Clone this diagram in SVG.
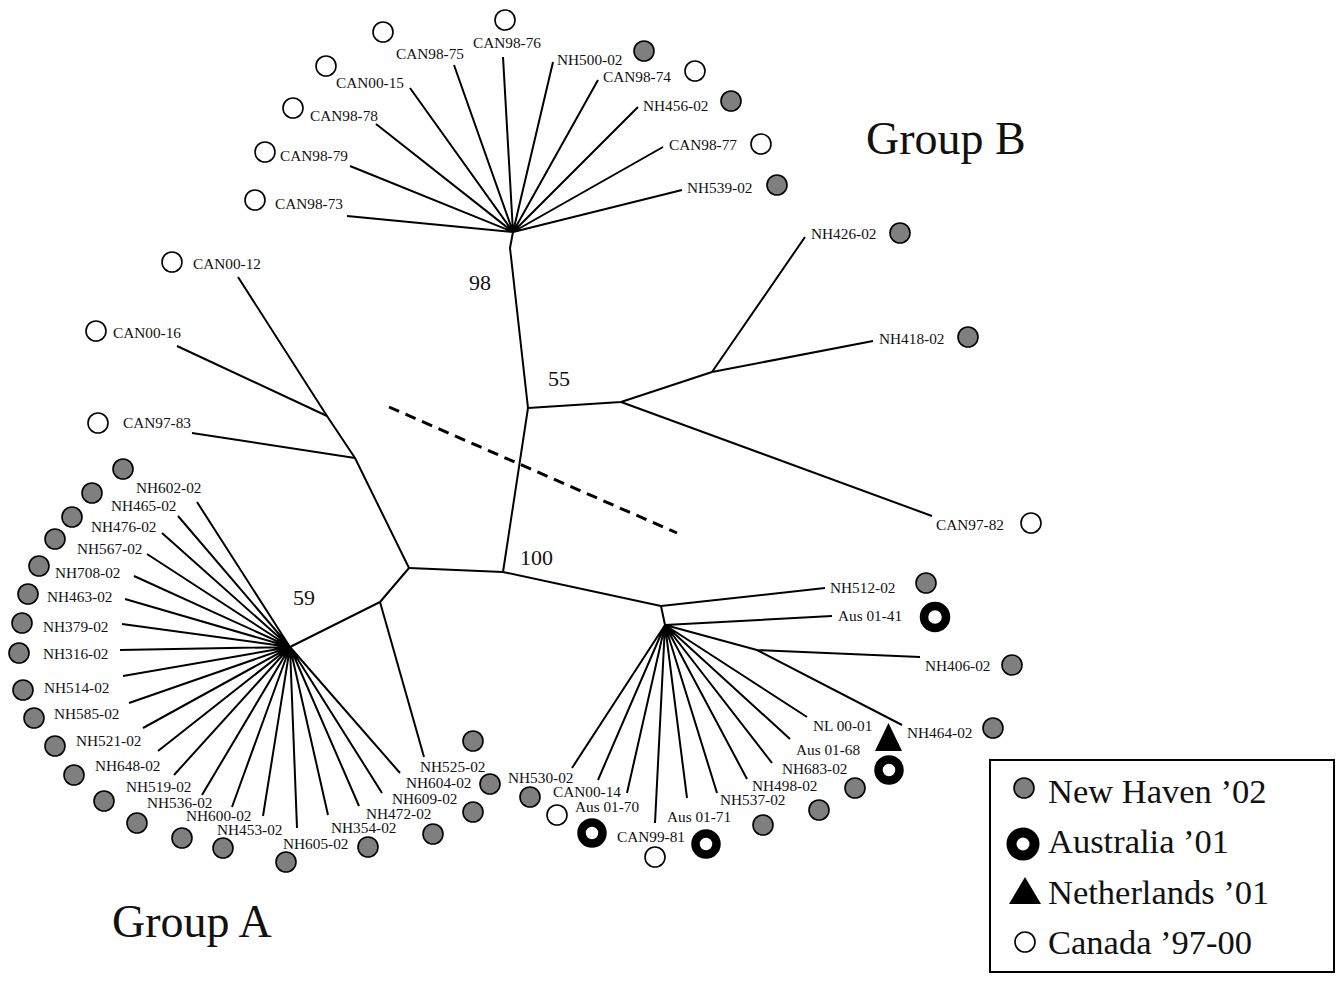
<svg xmlns="http://www.w3.org/2000/svg" width="1336" height="981" viewBox="0 0 1336 981">
<style>
.br{fill:none;stroke:#000;stroke-width:2;stroke-linejoin:round}
.dash{fill:none;stroke:#000;stroke-width:3;stroke-dasharray:11 7}
.nh{fill:#7f7f7f;stroke:#000;stroke-width:1.6}
.ca{fill:#fff;stroke:#000;stroke-width:1.6}
.au{fill:#fff;stroke:#000;stroke-width:8.5}
.nl{fill:#000}
text{font-family:"Liberation Serif","Times New Roman",serif;fill:#111}
.lb{font-size:15.3px}
.bs{font-size:22px}
.grp{font-size:46px}
.lg{font-size:34.5px}
</style>
<rect x="0" y="0" width="1336" height="981" fill="#fff"/>
<g id="connectors">
<path class="br" d="M409,568 L503,572 L661,606 L665,625"/>
<path class="br" d="M503,572 L528,408 L510,248 L513,232"/>
<path class="br" d="M528,408 L621,402 L712,372"/>
<path class="br" d="M409,568 L355,458 L327,416 L238,277"/>
<path class="br" d="M327,416 L177,346"/>
<path class="br" d="M355,458 L192,433"/>
<path class="br" d="M409,568 L380,602 L290,647"/>
<path class="br" d="M380,602 L424,757"/>
<path class="br" d="M513,232 L347,216 M513,232 L350,166 M513,232 L376,124 M513,232 L410,88 M513,232 L454,65 M513,232 L503,57 M513,232 L553,62 M513,232 L598,80 M513,232 L638,107 M513,232 L663,147 M513,232 L682,190"/>
<path class="br" d="M712,372 L805,237 M712,372 L873,341 M621,402 L932,516"/>
<path class="br" d="M290,647 L197,502 M290,647 L178,516 M290,647 L162,533 M290,647 L147,554 M290,647 L134,576 M290,647 L125,599 M290,647 L122,624 M290,647 L120,650 M290,647 L123,676 M290,647 L129,703 M290,647 L143,728 M290,647 L158,751 M290,647 L174,775 M290,647 L202,795 M290,647 L232,807 M290,647 L263,816 M290,647 L297,828 M290,647 L328,815 M290,647 L359,806 M290,647 L382,793 M290,647 L400,773"/>
<path class="br" d="M661,606 L825,588 M665,625 L832,616 M665,625 L757,650 L920,657 M757,650 L902,725"/>
<path class="br" d="M665,625 L807,717 M665,625 L790,739 M665,625 L772,763 M665,625 L747,779 M665,625 L717,793 M665,625 L687,798 M665,625 L655,823 M665,625 L627,793 M665,625 L598,780 M665,625 L572,768"/>
<path class="dash" d="M389,407 L677,533"/>
</g>
<g id="bootstrap">
<text class="bs" x="469" y="290">98</text>
<text class="bs" x="548" y="386">55</text>
<text class="bs" x="520" y="565">100</text>
<text class="bs" x="293" y="605">59</text>
</g>
<g id="group-labels">
<text class="grp" x="866" y="154">Group B</text>
<text class="grp" x="112" y="937">Group A</text>
</g>
<g id="CAN98-73"><circle class="ca" cx="255" cy="200" r="10"/><text class="lb" x="275" y="209">CAN98-73</text></g>
<g id="CAN98-79"><circle class="ca" cx="265" cy="152" r="10"/><text class="lb" x="280" y="161">CAN98-79</text></g>
<g id="CAN98-78"><circle class="ca" cx="293" cy="108" r="10"/><text class="lb" x="310" y="121">CAN98-78</text></g>
<g id="CAN00-15"><circle class="ca" cx="326" cy="66" r="10"/><text class="lb" x="336" y="88">CAN00-15</text></g>
<g id="CAN98-75"><circle class="ca" cx="383" cy="32" r="10"/><text class="lb" x="396" y="59">CAN98-75</text></g>
<g id="CAN98-76"><circle class="ca" cx="505" cy="20" r="10"/><text class="lb" x="473" y="48">CAN98-76</text></g>
<g id="NH500-02"><circle class="nh" cx="644" cy="51" r="10"/><text class="lb" x="557" y="65">NH500-02</text></g>
<g id="CAN98-74"><circle class="ca" cx="695" cy="71" r="10"/><text class="lb" x="603" y="82">CAN98-74</text></g>
<g id="NH456-02"><circle class="nh" cx="731" cy="101" r="10"/><text class="lb" x="643" y="111">NH456-02</text></g>
<g id="CAN98-77"><circle class="ca" cx="761" cy="144" r="10"/><text class="lb" x="669" y="150">CAN98-77</text></g>
<g id="NH539-02"><circle class="nh" cx="777" cy="185" r="10"/><text class="lb" x="687" y="193">NH539-02</text></g>
<g id="NH426-02"><circle class="nh" cx="900" cy="233" r="10"/><text class="lb" x="811" y="239">NH426-02</text></g>
<g id="NH418-02"><circle class="nh" cx="968" cy="337" r="10"/><text class="lb" x="879" y="344">NH418-02</text></g>
<g id="CAN97-82"><circle class="ca" cx="1031" cy="523" r="10"/><text class="lb" x="936" y="530">CAN97-82</text></g>
<g id="CAN00-12"><circle class="ca" cx="172" cy="262" r="10"/><text class="lb" x="193" y="269">CAN00-12</text></g>
<g id="CAN00-16"><circle class="ca" cx="96" cy="331" r="10"/><text class="lb" x="113" y="338">CAN00-16</text></g>
<g id="CAN97-83"><circle class="ca" cx="98" cy="423" r="10"/><text class="lb" x="123" y="428">CAN97-83</text></g>
<g id="NH602-02"><circle class="nh" cx="123" cy="469" r="10"/><text class="lb" x="136" y="493">NH602-02</text></g>
<g id="NH465-02"><circle class="nh" cx="92" cy="493" r="10"/><text class="lb" x="111" y="511">NH465-02</text></g>
<g id="NH476-02"><circle class="nh" cx="72" cy="517" r="10"/><text class="lb" x="91" y="532">NH476-02</text></g>
<g id="NH567-02"><circle class="nh" cx="55" cy="539" r="10"/><text class="lb" x="77" y="554">NH567-02</text></g>
<g id="NH708-02"><circle class="nh" cx="39" cy="566" r="10"/><text class="lb" x="55" y="578">NH708-02</text></g>
<g id="NH463-02"><circle class="nh" cx="28" cy="594" r="10"/><text class="lb" x="47" y="602">NH463-02</text></g>
<g id="NH379-02"><circle class="nh" cx="22" cy="623" r="10"/><text class="lb" x="43" y="632">NH379-02</text></g>
<g id="NH316-02"><circle class="nh" cx="19" cy="653" r="10"/><text class="lb" x="43" y="659">NH316-02</text></g>
<g id="NH514-02"><circle class="nh" cx="23" cy="690" r="10"/><text class="lb" x="44" y="693">NH514-02</text></g>
<g id="NH585-02"><circle class="nh" cx="34" cy="718" r="10"/><text class="lb" x="54" y="719">NH585-02</text></g>
<g id="NH521-02"><circle class="nh" cx="55" cy="746" r="10"/><text class="lb" x="76" y="746">NH521-02</text></g>
<g id="NH648-02"><circle class="nh" cx="74" cy="775" r="10"/><text class="lb" x="95" y="771">NH648-02</text></g>
<g id="NH519-02"><circle class="nh" cx="104" cy="801" r="10"/><text class="lb" x="126" y="792">NH519-02</text></g>
<g id="NH536-02"><circle class="nh" cx="137" cy="823" r="10"/><text class="lb" x="147" y="808">NH536-02</text></g>
<g id="NH600-02"><circle class="nh" cx="182" cy="838" r="10"/><text class="lb" x="186" y="821">NH600-02</text></g>
<g id="NH453-02"><circle class="nh" cx="223" cy="848" r="10"/><text class="lb" x="217" y="835">NH453-02</text></g>
<g id="NH605-02"><circle class="nh" cx="286" cy="862" r="10"/><text class="lb" x="283" y="849">NH605-02</text></g>
<g id="NH354-02"><circle class="nh" cx="368" cy="847" r="10"/><text class="lb" x="331" y="833">NH354-02</text></g>
<g id="NH472-02"><circle class="nh" cx="433" cy="834" r="10"/><text class="lb" x="366" y="819">NH472-02</text></g>
<g id="NH609-02"><circle class="nh" cx="473" cy="812" r="10"/><text class="lb" x="392" y="804">NH609-02</text></g>
<g id="NH604-02"><circle class="nh" cx="490" cy="784" r="10"/><text class="lb" x="406" y="788">NH604-02</text></g>
<g id="NH525-02"><circle class="nh" cx="473" cy="741" r="10"/><text class="lb" x="420" y="772">NH525-02</text></g>
<g id="NH512-02"><circle class="nh" cx="926" cy="583" r="10"/><text class="lb" x="830" y="593">NH512-02</text></g>
<g id="Aus01-41"><circle class="au" cx="935" cy="617" r="11"/><text class="lb" x="838" y="621">Aus 01-41</text></g>
<g id="NH406-02"><circle class="nh" cx="1012" cy="665" r="10"/><text class="lb" x="925" y="671">NH406-02</text></g>
<g id="NH464-02"><circle class="nh" cx="993" cy="728" r="10"/><text class="lb" x="907" y="738">NH464-02</text></g>
<g id="NL00-01"><polygon class="nl" points="875,751 902,751 888.5,723"/><text class="lb" x="813" y="731">NL 00-01</text></g>
<g id="Aus01-68"><circle class="au" cx="889" cy="770" r="10.5"/><text class="lb" x="796" y="755">Aus 01-68</text></g>
<g id="NH683-02"><circle class="nh" cx="855" cy="788" r="10"/><text class="lb" x="782" y="774">NH683-02</text></g>
<g id="NH498-02"><circle class="nh" cx="819" cy="810" r="10"/><text class="lb" x="752" y="791">NH498-02</text></g>
<g id="NH537-02"><circle class="nh" cx="763" cy="825" r="10"/><text class="lb" x="720" y="805">NH537-02</text></g>
<g id="Aus01-71"><circle class="au" cx="706" cy="844" r="10.5"/><text class="lb" x="667" y="822">Aus 01-71</text></g>
<g id="CAN99-81"><circle class="ca" cx="655" cy="857" r="10"/><text class="lb" x="617" y="842">CAN99-81</text></g>
<g id="Aus01-70"><circle class="au" cx="592" cy="833" r="10.5"/><text class="lb" x="575" y="812">Aus 01-70</text></g>
<g id="CAN00-14"><circle class="ca" cx="557" cy="815" r="10"/><text class="lb" x="553" y="797">CAN00-14</text></g>
<g id="NH530-02"><circle class="nh" cx="530" cy="797" r="10"/><text class="lb" x="508" y="783">NH530-02</text></g>
<g id="legend">
<rect x="990" y="760" width="344" height="212" fill="#fff" stroke="#000" stroke-width="2"/>
<circle class="nh" cx="1024" cy="788" r="10"/>
<text class="lg" x="1048" y="803">New Haven ’02</text>
<circle class="au" cx="1023" cy="844" r="11.5" style="stroke-width:10"/>
<text class="lg" x="1048" y="853">Australia ’01</text>
<polygon class="nl" points="1009,904 1041,904 1025,877"/>
<text class="lg" x="1048" y="904">Netherlands ’01</text>
<circle class="ca" cx="1025" cy="942" r="10"/>
<text class="lg" x="1048" y="954">Canada ’97-00</text>
</g>
</svg>
